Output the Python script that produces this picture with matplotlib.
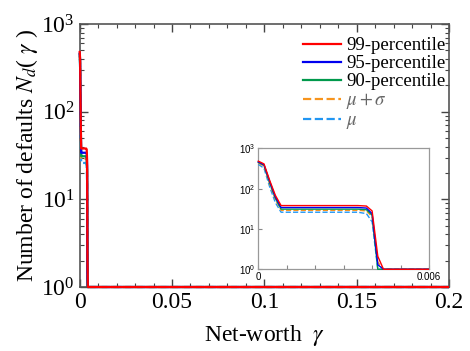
import matplotlib
matplotlib.use("Agg")
import matplotlib.pyplot as plt
from matplotlib.patches import Rectangle
from matplotlib.ticker import MultipleLocator, LogLocator, FuncFormatter, NullFormatter, FixedLocator

plt.rcParams['font.family'] = ['Liberation Serif', 'DejaVu Serif']
plt.rcParams['mathtext.fontset'] = 'stix'

# net-worth grid and number of defaults for each statistic
gamma = [0.0, 0.0002, 0.0004, 0.0006, 0.0008, 0.0010, 0.0015, 0.0020, 0.0025,
         0.0030, 0.0035, 0.0038, 0.0040, 0.0042, 0.0044, 0.2]
nd_p99 = [480, 410, 160, 68, 38, 38, 38, 38, 38, 38, 38, 37, 28, 2.1, 1, 1]
nd_p95 = [460, 390, 150, 62, 34, 34, 34, 34, 34, 34, 34, 33, 24, 1.3, 1, 1]
nd_p90 = [450, 380, 140, 58, 31, 31, 31, 31, 31, 31, 31, 30, 22, 1, 1, 1]
nd_mu_sigma = [430, 360, 130, 54, 29, 29, 29, 29, 29, 29, 29, 28, 20, 1.5, 1, 1]
nd_mu = [400, 320, 110, 45, 26, 26, 26, 26, 26, 26, 26, 24, 15, 1, 1, 1]

labels = ['99-percentile', '95-percentile', '90-percentile', r'$\mu+\sigma$', r'$\mu$']
series = [nd_p99, nd_p95, nd_p90, nd_mu_sigma, nd_mu]
colors = ['#ff0000', '#0000ee', '#00994c', '#f7941d', '#2196f3']
styles = ['-', '-', '-', '--', '--']


def draw_series(axis, lw, **kw):
    # reversed so the 99-percentile ends up on top; clip box is padded
    # downward so the N_d = 1 floor stays visible over the bottom spine
    box = Rectangle((-0.02, -0.03), 1.02, 1.03, transform=axis.transAxes,
                    fill=False, visible=False)
    axis.add_patch(box)
    for y, c, ls, lab in reversed(list(zip(series, colors, styles, labels))):
        line, = axis.plot(gamma, y, color=c, ls=ls, lw=lw, label=lab, zorder=3, **kw)
        line.set_clip_path(box)


fig = plt.figure(figsize=(4.70, 3.51), dpi=100)
ax = fig.add_axes([0.1696, 0.1823, 0.7857, 0.7493])
draw_series(ax, 1.6)

ax.set_yscale('log')
ax.set_xlim(0, 0.2)
ax.set_ylim(1, 1000)
ax.xaxis.set_major_locator(MultipleLocator(0.05))
ax.xaxis.set_minor_locator(MultipleLocator(0.01))
ax.xaxis.set_major_formatter(FuncFormatter(lambda v, p: '%g' % v))
ax.yaxis.set_major_locator(LogLocator(base=10))
ax.yaxis.set_minor_locator(LogLocator(base=10, subs=range(2, 10)))
ax.yaxis.set_minor_formatter(NullFormatter())
ax.tick_params(which='both', direction='in', top=True, right=True, labelsize=17,
               color='#444444')
ax.tick_params(which='major', length=6, width=1)
ax.tick_params(which='minor', length=3, width=0.8)
for s in ax.spines.values():
    s.set_color('#555555')
    s.set_linewidth(1.2)

ax.set_xlabel(r'Net-worth  $\gamma$', fontsize=17, labelpad=7)
ax.set_ylabel(r'Number of defaults $N_d$( $\gamma$ )', fontsize=17, labelpad=1)

handles, labs = ax.get_legend_handles_labels()
leg = ax.legend(handles[::-1], labs[::-1], loc='upper left', bbox_to_anchor=(0.605, 0.95),
                frameon=False, fontsize=13.5, handlelength=2.0, handletextpad=0.3,
                labelspacing=0.05, borderpad=0, borderaxespad=0)
for t in leg.get_texts()[3:]:
    t.set_color('#666666')

# inset: zoom on the low net-worth region
axi = fig.add_axes([0.5496, 0.2328, 0.3632, 0.3447])
draw_series(axi, 1.0)
axi.set_yscale('log')
axi.set_xlim(0, 0.006)
axi.set_ylim(1, 1000)
axi.xaxis.set_major_locator(MultipleLocator(0.001))
axi.xaxis.set_major_formatter(FuncFormatter(lambda v, p: '%g' % v if v < 1e-9 or abs(v - 0.006) < 1e-9 else ''))
axi.yaxis.set_major_locator(LogLocator(base=10))
axi.yaxis.set_minor_locator(FixedLocator([]))
axi.tick_params(which='both', direction='in', length=3, labelsize=7, color='#888888', pad=2)
for lab in axi.get_xticklabels() + axi.get_yticklabels():
    lab.set_family(['Liberation Sans', 'DejaVu Sans'])
for s in axi.spines.values():
    s.set_color('#999999')
    s.set_linewidth(0.9)

fig.savefig('out.png', dpi=100)
